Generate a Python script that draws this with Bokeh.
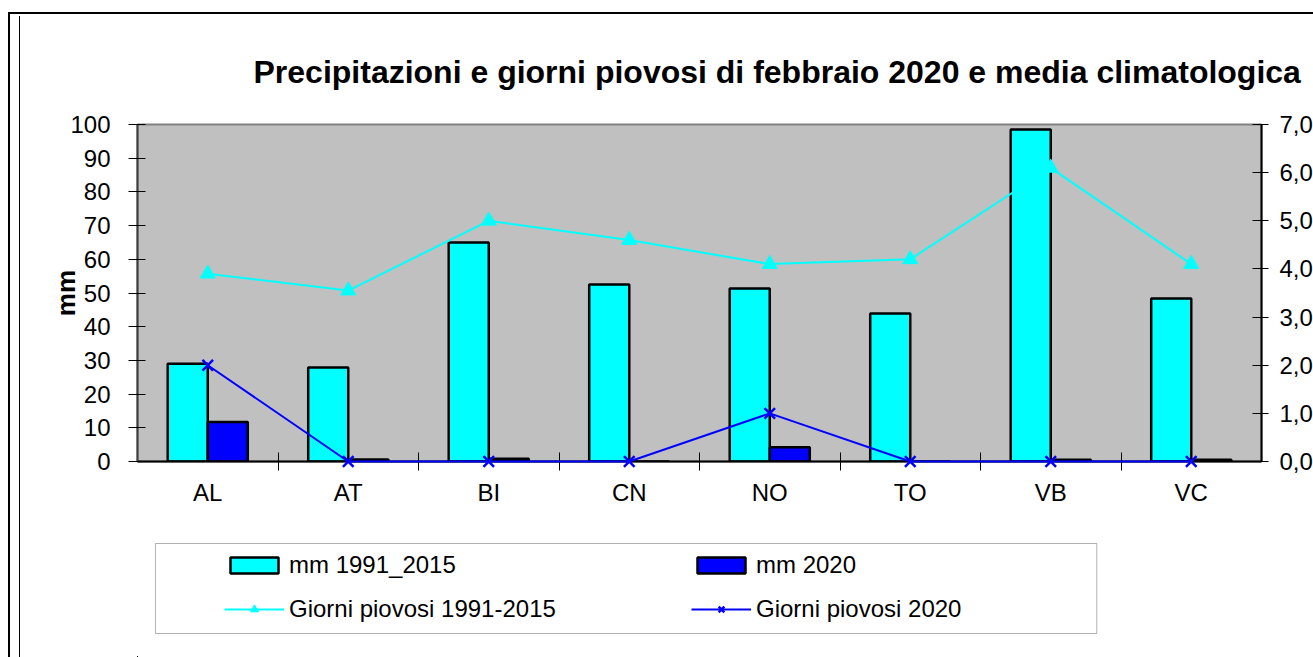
from bokeh.plotting import figure
from bokeh.layouts import column
from bokeh.models import (Range1d, LinearAxis, FixedTicker, Legend, LegendItem,
                          InlineStyleSheet, BoxAnnotation)
from bokeh.embed import file_html
from bokeh.resources import INLINE

# ---------------- data ----------------
provinces = ["AL", "AT", "BI", "CN", "NO", "TO", "VB", "VC"]
mm_1991_2015 = [29.0, 27.9, 65.0, 52.5, 51.3, 43.9, 98.5, 48.4]
mm_2020 = [11.7, 0.6, 0.8, 0.0, 4.2, 0.0, 0.5, 0.5]
giorni_1991_2015 = [3.9, 3.55, 5.0, 4.6, 4.1, 4.2, 6.1, 4.1]
giorni_2020 = [2.0, 0.0, 0.0, 0.0, 1.0, 0.0, 0.0, 0.0]
mm_ticks = [0, 10, 20, 30, 40, 50, 60, 70, 80, 90, 100]
giorni_ticks = [0, 1, 2, 3, 4, 5, 6, 7]
giorni_labels = ["0,0", "1,0", "2,0", "3,0", "4,0", "5,0", "6,0", "7,0"]
title_text = "Precipitazioni e giorni piovosi di febbraio 2020 e media climatologica"
legend_labels = ["mm 1991_2015", "mm 2020", "Giorni piovosi 1991-2015", "Giorni piovosi 2020"]

FONT = "Liberation Sans"
CYAN = "#00FFFF"
BLUE = "#0000FF"

n = len(provinces)
xc = [i + 1 for i in range(n)]
bar_w = 0.285
x_old = [x - bar_w / 2 for x in xc]
x_new = [x + bar_w / 2 for x in xc]

css_top = """
:host::before {
  content: ""; position: absolute; left: 8px; top: 12px; width: 1305px; height: 518px;
  box-sizing: border-box; border-left: 2px solid black; border-top: 2px solid black;
  background: linear-gradient(black, black) no-repeat;
  background-size: 1px 100%; background-position: 9px 2px;
  pointer-events: none; z-index: 5;
}
"""
css_bottom = """
:host::before {
  content: ""; position: absolute; left: 8px; top: 0px; width: 1305px; height: 127px;
  box-sizing: border-box; border-left: 2px solid black;
  background: linear-gradient(black, black) no-repeat;
  background-size: 1px 100%; background-position: 9px 0px;
  pointer-events: none; z-index: 5;
}
"""

# ---------------- main chart ----------------
p = figure(frame_width=1124, frame_height=337, output_backend="svg", toolbar_location=None,
           x_range=Range1d(0.5, n + 0.5), y_range=Range1d(0, 100),
           min_border_left=137, min_border_right=52, min_border_top=124,
           min_border_bottom=69, stylesheets=[InlineStyleSheet(css=css_top)])
p.extra_y_ranges = {"days": Range1d(0, 7)}
p.background_fill_color = "#C0C0C0"
p.border_fill_color = "white"
p.outline_line_color = "#808080"
p.outline_line_width = 2
p.xgrid.visible = False
p.ygrid.visible = False

p.title.text = title_text
p.title.align = "left"
p.title.offset = 116
p.title.standoff = 70
p.title.text_font = FONT
p.title.text_font_size = "32px"
p.title.text_font_style = "bold"
p.title.text_color = "black"

bar_old_style = dict(fill_color=CYAN, line_color="black", line_width=2.5)
bar_new_style = dict(fill_color=BLUE, line_color="black", line_width=2.5)
line_old_style = dict(line_color=CYAN, line_width=2)
line_new_style = dict(line_color=BLUE, line_width=2)
mark_old_style = dict(marker="triangle", size=15, fill_color=CYAN, line_color=CYAN)
mark_new_style = dict(marker="x", size=15, line_color=BLUE, line_width=2.5)

p.vbar(x=x_old, top=mm_1991_2015, width=bar_w, bottom=0, **bar_old_style)
p.vbar(x=x_new, top=mm_2020, width=bar_w, bottom=0, **bar_new_style)
p.line(xc, giorni_1991_2015, y_range_name="days", level="overlay", **line_old_style)
p.scatter(xc, giorni_1991_2015, y_range_name="days", level="overlay", **mark_old_style)
p.line(xc, giorni_2020, y_range_name="days", level="overlay", **line_new_style)
p.scatter(xc, giorni_2020, y_range_name="days", level="overlay", **mark_new_style)

# x axis: labels at category centres, ticks between categories
xa = p.xaxis[0]
xa.ticker = FixedTicker(ticks=xc, minor_ticks=[x + 0.5 for x in xc[:-1]])
xa.major_label_overrides = {x: name for x, name in zip(xc, provinces)}
xa.major_tick_in = 0
xa.major_tick_out = 0
xa.minor_tick_in = 9
xa.minor_tick_out = 9
xa.minor_tick_line_color = "black"
xa.axis_line_color = "black"
xa.axis_line_width = 2
xa.major_label_standoff = 8
xa.major_label_text_font = FONT
xa.major_label_text_font_size = "24px"
xa.major_label_text_color = "black"

ya = p.yaxis[0]
ya.ticker = FixedTicker(ticks=mm_ticks)
ya.major_tick_in = 8
ya.major_tick_out = 9
ya.minor_tick_line_color = None
ya.axis_line_color = "#404040"
ya.axis_line_width = 2
ya.major_label_standoff = 18
ya.major_label_text_font = FONT
ya.major_label_text_font_size = "24px"
ya.major_label_text_color = "black"
ya.axis_label = "mm"
ya.axis_label_text_font = FONT
ya.axis_label_text_font_size = "26px"
ya.axis_label_text_font_style = "bold"
ya.axis_label_text_color = "black"
ya.axis_label_standoff = -14

ra = LinearAxis(y_range_name="days", ticker=FixedTicker(ticks=giorni_ticks))
ra.major_label_overrides = {t: lab for t, lab in zip(giorni_ticks, giorni_labels)}
ra.major_tick_in = 9
ra.major_tick_out = 7
ra.minor_tick_line_color = None
ra.axis_line_color = "black"
ra.axis_line_width = 2
ra.major_label_standoff = 11
ra.major_label_text_font = FONT
ra.major_label_text_font_size = "24px"
ra.major_label_text_color = "black"
p.add_layout(ra, "right")

# ---------------- legend strip (below the chart) ----------------
# its frame lines up with the chart frame (137..1261 px), so the x range is in page pixels
lf = figure(width=1313, height=127, output_backend="svg", toolbar_location=None,
            x_axis_location=None, y_axis_location=None, min_border=0,
            x_range=Range1d(137, 1261), y_range=Range1d(127, 0),
            stylesheets=[InlineStyleSheet(css=css_bottom)])
lf.extra_x_ranges = {"off": Range1d(1000, 1001)}
lf.extra_y_ranges = {"off": Range1d(1000, 1001)}
lf.outline_line_color = None
lf.background_fill_color = "white"
lf.border_fill_color = "white"
lf.grid.visible = False

# legend swatch renderers: same series, mapped onto an off-screen range (not visible)
off = dict(x_range_name="off", y_range_name="off")
k_old = lf.vbar(x=x_old, top=mm_1991_2015, width=bar_w, bottom=0, **off, **bar_old_style)
k_new = lf.vbar(x=x_new, top=mm_2020, width=bar_w, bottom=0, **off, **bar_new_style)
kl_old = lf.line(xc, giorni_1991_2015, **off, **line_old_style)
km_old = lf.scatter(xc, giorni_1991_2015, **off, **mark_old_style)
kl_new = lf.line(xc, giorni_2020, **off, **line_new_style)
km_new = lf.scatter(xc, giorni_2020, **off, **mark_new_style)

lf.add_layout(BoxAnnotation(left=155, right=1098, top=13, bottom=103,
                            fill_color="white", fill_alpha=1,
                            line_color="black", line_width=1))

legend = Legend(
    items=[LegendItem(label=legend_labels[0], renderers=[k_old]),
           LegendItem(label=legend_labels[1], renderers=[k_new]),
           LegendItem(label=legend_labels[2], renderers=[kl_old, km_old]),
           LegendItem(label=legend_labels[3], renderers=[kl_new, km_new])],
    orientation="horizontal", ncols=2,
    location=(87, 34),
    glyph_width=60, glyph_height=20, label_height=20, label_width=386,
    label_standoff=5, padding=0, margin=0, spacing=16,
    border_line_alpha=0, background_fill_alpha=0,
    label_text_font=FONT, label_text_font_size="24px", label_text_color="black")
lf.add_layout(legend, "center")

page = column(p, lf, spacing=0)
open("out.html", "w").write(file_html(page, INLINE))
